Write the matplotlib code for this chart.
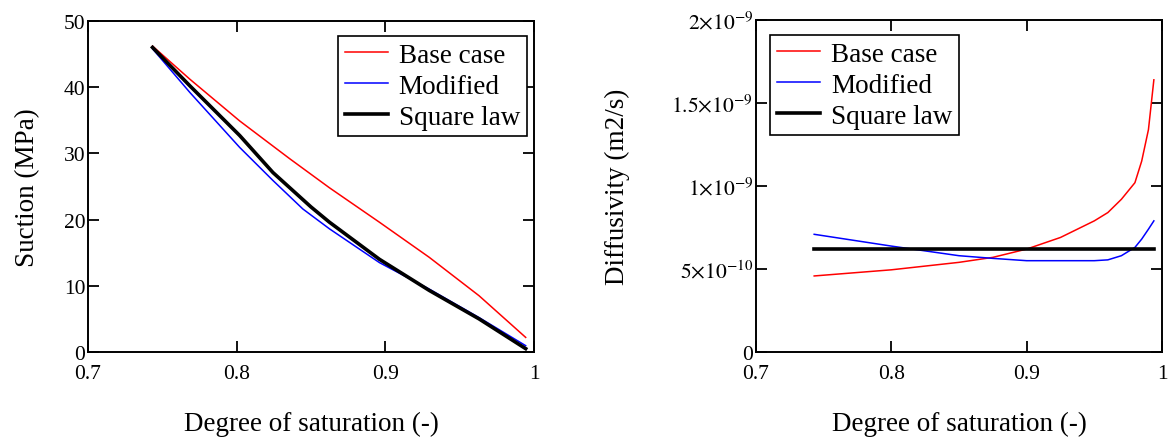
import matplotlib
matplotlib.use("Agg")
import matplotlib.pyplot as plt

plt.rcParams['font.family'] = ['Liberation Serif', 'DejaVu Serif']
plt.rcParams['mathtext.fontset'] = 'stix'

# left panel: suction vs degree of saturation
sat_base = [0.7434, 0.7685, 0.802, 0.8356, 0.8624, 0.896, 0.9295, 0.963, 0.9944]
suction_base = [46.2, 41.2, 34.9, 29.2, 24.8, 19.6, 14.3, 8.5, 2.2]

sat_modified = [0.7434, 0.7685, 0.802, 0.8244, 0.8445, 0.8624, 0.896, 0.9295,
                0.963, 0.9944]
suction_modified = [45.8, 39.2, 30.9, 25.9, 21.6, 18.6, 13.5, 9.5, 5.2, 0.95]

sat_square = [0.7434, 0.7685, 0.802, 0.8244, 0.850, 0.8624, 0.896, 0.9295,
              0.963, 0.9944]
suction_square = [46.0, 40.2, 32.7, 27.1, 21.9, 19.6, 14.0, 9.3, 5.0, 0.5]

# right panel: diffusivity vs degree of saturation
sat_diff = [0.743, 0.800, 0.850, 0.875, 0.900, 0.925, 0.950, 0.960,
            0.970, 0.980, 0.985, 0.990, 0.994]
diff_base = [4.58e-10, 4.95e-10, 5.40e-10, 5.70e-10, 6.20e-10, 6.90e-10,
             7.90e-10, 8.40e-10, 9.20e-10, 10.2e-10, 11.5e-10, 13.4e-10,
             16.4e-10]
diff_modified = [7.09e-10, 6.38e-10, 5.80e-10, 5.64e-10, 5.50e-10, 5.50e-10,
                 5.50e-10, 5.55e-10, 5.80e-10, 6.30e-10, 6.80e-10, 7.40e-10,
                 7.90e-10]
diff_square = [6.19e-10] * len(sat_diff)

x_ticks = [0.7, 0.8, 0.9, 1.0]
x_labels = ['0.7', '0.8', '0.9', '1']
suction_ticks = [0, 10, 20, 30, 40, 50]
diff_ticks = [0, 5e-10, 1e-9, 1.5e-9, 2e-9]
diff_labels = ['0', r'$5{\times}10^{-10}$', r'$1{\times}10^{-9}$',
               r'$1.5{\times}10^{-9}$', r'$2{\times}10^{-9}$']


def style_axes(ax):
    for sp in ax.spines.values():
        sp.set_linewidth(1.4)
    ax.tick_params(direction='in', length=8, width=1.3, top=True, right=True,
                   labelsize=15.5)
    ax.tick_params(axis='x', pad=9)
    ax.tick_params(axis='y', pad=2)
    ax.set_xlim(0.7, 1.0)
    ax.set_xticks(x_ticks)
    ax.set_xticklabels(x_labels)
    ax.set_xlabel('Degree of saturation (-)', fontsize=19.5, labelpad=20)


def add_legend(ax, loc, anchor):
    leg = ax.legend(loc=loc, bbox_to_anchor=anchor, fontsize=19.5,
                    fancybox=False, edgecolor='black', framealpha=1,
                    borderpad=0.25, labelspacing=0.22, handlelength=1.6,
                    handletextpad=0.4, borderaxespad=0)
    leg.get_frame().set_linewidth(1.2)
    return leg


fig = plt.figure(figsize=(11.69, 4.39), dpi=100)

ax1 = fig.add_axes([0.0753, 0.196, 0.3815, 0.754])
ax1.plot(sat_base, suction_base, color='red', lw=1.1, label='Base case')
ax1.plot(sat_modified, suction_modified, color='blue', lw=1.1, label='Modified')
ax1.plot(sat_square, suction_square, color='black', lw=2.6, label='Square law')
style_axes(ax1)
ax1.set_ylim(0, 50)
ax1.set_yticks(suction_ticks)
ax1.set_ylabel('Suction (MPa)', fontsize=19.5, labelpad=17)
add_legend(ax1, 'upper right', (0.984, 0.955))

ax2 = fig.add_axes([0.6467, 0.196, 0.3473, 0.756])
ax2.plot(sat_diff, diff_base, color='red', lw=1.1, label='Base case')
ax2.plot(sat_diff, diff_modified, color='blue', lw=1.1, label='Modified')
ax2.plot(sat_diff, diff_square, color='black', lw=2.6, label='Square law')
style_axes(ax2)
ax2.set_ylim(0, 2e-9)
ax2.set_yticks(diff_ticks)
ax2.set_yticklabels(diff_labels)
ax2.set_ylabel('Diffusivity (m2/s)', fontsize=19.5, labelpad=30)
add_legend(ax2, 'upper left', (0.0345, 0.955))

fig.savefig('out.png', dpi=100)
